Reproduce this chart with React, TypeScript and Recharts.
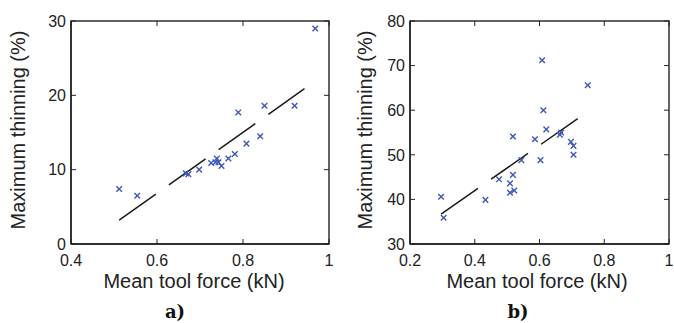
import { Label, Scatter, ScatterChart, XAxis, YAxis } from 'recharts';

// panel a) measured points
const forceA = [0.512, 0.554, 0.667, 0.673, 0.698, 0.726, 0.736, 0.739, 0.743, 0.75, 0.766, 0.781, 0.789, 0.808, 0.84, 0.85, 0.92, 0.968];
const thinA = [7.4, 6.5, 9.5, 9.4, 10.0, 10.9, 11.0, 11.5, 11.0, 10.5, 11.5, 12.1, 17.7, 13.5, 14.5, 18.6, 18.6, 29.0];
const fitForceA = [0.512, 0.943];
const fitThinA = [3.2, 20.9];

// panel b) measured points
const forceB = [0.296, 0.304, 0.433, 0.475, 0.509, 0.509, 0.522, 0.518, 0.518, 0.544, 0.586, 0.603, 0.608, 0.612, 0.621, 0.663, 0.667, 0.697, 0.705, 0.705, 0.749];
const thinB = [40.6, 35.9, 39.9, 44.5, 43.6, 41.5, 42.0, 45.5, 54.1, 48.8, 53.5, 48.8, 71.2, 60.0, 55.7, 54.5, 55.0, 52.9, 52.0, 50.0, 65.6];
const fitForceB = [0.296, 0.718];
const fitThinB = [36.7, 58.1];

const ticksXA = [0.4, 0.6, 0.8, 1];
const ticksYA = [0, 10, 20, 30];
const ticksXB = [0.2, 0.4, 0.6, 0.8, 1];
const ticksYB = [30, 40, 50, 60, 70, 80];

const X_TITLE = 'Mean tool force (kN)';
const Y_TITLE = 'Maximum thinning (%)';

const FONT = '"Liberation Sans", Arial, sans-serif';
const SERIF = '"DejaVu Serif", "Liberation Serif", serif';
const AXIS = '#222';
const MARK = '#3d58b8';

const H = 323;
const TOP = 21;
const BOTTOM = 244;
const TICK = 5;

const zip = (xs: number[], ys: number[]) => xs.map((x, i) => ({ x, y: ys[i] }));

const Cross = (props: any) => {
  const { cx, cy } = props;
  const r = 2.8;
  return (
    <path
      d={`M${cx - r},${cy - r}L${cx + r},${cy + r}M${cx - r},${cy + r}L${cx + r},${cy - r}`}
      stroke={MARK}
      strokeWidth={1.4}
      fill="none"
    />
  );
};

const NoDot = () => <g />;

const XTick = (props: any) => {
  const { x, y, payload } = props;
  return (
    <text x={x} y={y + 22} textAnchor="middle" fontSize={16} fontFamily={FONT} fill={AXIS}>
      {payload.value}
    </text>
  );
};

const YTick = (props: any) => {
  const { x, y, payload } = props;
  return (
    <text x={x - 5} y={y} dy="0.36em" textAnchor="end" fontSize={16} fontFamily={FONT} fill={AXIS}>
      {payload.value}
    </text>
  );
};

interface PanelProps {
  width: number;
  yAxisWidth: number;
  rightMargin: number;
  xDomain: [number, number];
  yDomain: [number, number];
  xTicks: number[];
  yTicks: number[];
  points: { x: number; y: number }[];
  fit: { x: number; y: number }[];
  tag: string;
  titleX: number;
  tagX: number;
  titleY: number;
}

// box with inward ticks on all four sides (matlab style)
function Frame(p: PanelProps) {
  const left = p.yAxisWidth;
  const right = p.width - p.rightMargin;
  const sx = (v: number) => left + ((v - p.xDomain[0]) / (p.xDomain[1] - p.xDomain[0])) * (right - left);
  const sy = (v: number) => BOTTOM - ((v - p.yDomain[0]) / (p.yDomain[1] - p.yDomain[0])) * (BOTTOM - TOP);
  const d: string[] = [];
  p.xTicks.forEach((t) => {
    const x = sx(t);
    d.push(`M${x},${BOTTOM}v${-TICK}M${x},${TOP}v${TICK}`);
  });
  p.yTicks.forEach((t) => {
    const y = sy(t);
    d.push(`M${left},${y}h${TICK}M${right},${y}h${-TICK}`);
  });
  return (
    <svg
      width={p.width}
      height={H}
      style={{ position: 'absolute', left: 0, top: 0, zIndex: 5, pointerEvents: 'none', overflow: 'visible' }}
    >
      <path d={d.join('')} stroke={AXIS} strokeWidth={1} fill="none" />
      <rect x={left} y={TOP} width={right - left} height={BOTTOM - TOP} fill="none" stroke={AXIS} strokeWidth={1.4} />
    </svg>
  );
}

function Panel(p: PanelProps) {
  const { width, yAxisWidth, rightMargin, xDomain, yDomain, xTicks, yTicks, points, fit } = p;
  return (
    <div style={{ position: 'relative', width, height: H }}>
      <ScatterChart width={width} height={H} margin={{ top: TOP, right: rightMargin, bottom: 0, left: 0 }}>
        <XAxis
          type="number"
          dataKey="x"
          domain={xDomain}
          ticks={xTicks}
          height={H - BOTTOM}
          tick={<XTick />}
          tickSize={0}
          tickMargin={0}
          axisLine={{ stroke: AXIS, strokeWidth: 1.4 }}
          tickLine={false}
          interval={0}
        >
          <Label
            content={() => (
              <text x={p.titleX} y={288} textAnchor="middle" fontSize={20} fontFamily={FONT} fill={AXIS}>
                {X_TITLE}
              </text>
            )}
          />
          <Label
            content={() => (
              <text x={p.tagX} y={318} textAnchor="middle" fontSize={18} fontWeight="bold" fontFamily={SERIF} fill="#111">
                {p.tag}
              </text>
            )}
          />
        </XAxis>
        <YAxis
          type="number"
          dataKey="y"
          domain={yDomain}
          ticks={yTicks}
          width={yAxisWidth}
          tick={<YTick />}
          tickSize={0}
          tickMargin={0}
          axisLine={{ stroke: AXIS, strokeWidth: 1.4 }}
          tickLine={false}
          interval={0}
        >
          <Label
            content={() => (
              <text
                transform={`translate(${p.titleY},130) rotate(-90)`}
                textAnchor="middle"
                fontSize={20}
                fontFamily={FONT}
                fill={AXIS}
              >
                {Y_TITLE}
              </text>
            )}
          />
        </YAxis>
        <Scatter
          data={fit}
          shape={NoDot}
          line={{ stroke: '#1a1a1a', strokeWidth: 1.5, strokeDasharray: '45 16' }}
          isAnimationActive={false}
        />
        <Scatter data={points} shape={Cross} isAnimationActive={false} />
      </ScatterChart>
      <Frame {...p} />
    </div>
  );
}

export default function App() {
  return (
    <div style={{ position: 'absolute', left: 0, top: 0, width: 674, height: H }}>
      <div style={{ position: 'absolute', left: 0, top: 0 }}>
        <Panel
          width={340}
          yAxisWidth={71}
          rightMargin={11}
          xDomain={[0.4, 1]}
          yDomain={[0, 30]}
          xTicks={ticksXA}
          yTicks={ticksYA}
          points={zip(forceA, thinA)}
          fit={zip(fitForceA, fitThinA)}
          tag="a)"
          titleX={194}
          tagX={175}
          titleY={25}
        />
      </div>
      <div style={{ position: 'absolute', left: 340, top: 0 }}>
        <Panel
          width={334}
          yAxisWidth={70}
          rightMargin={5}
          xDomain={[0.2, 1]}
          yDomain={[30, 80]}
          xTicks={ticksXB}
          yTicks={ticksYB}
          points={zip(forceB, thinB)}
          fit={zip(fitForceB, fitThinB)}
          tag="b)"
          titleX={197}
          tagX={178}
          titleY={32}
        />
      </div>
    </div>
  );
}
